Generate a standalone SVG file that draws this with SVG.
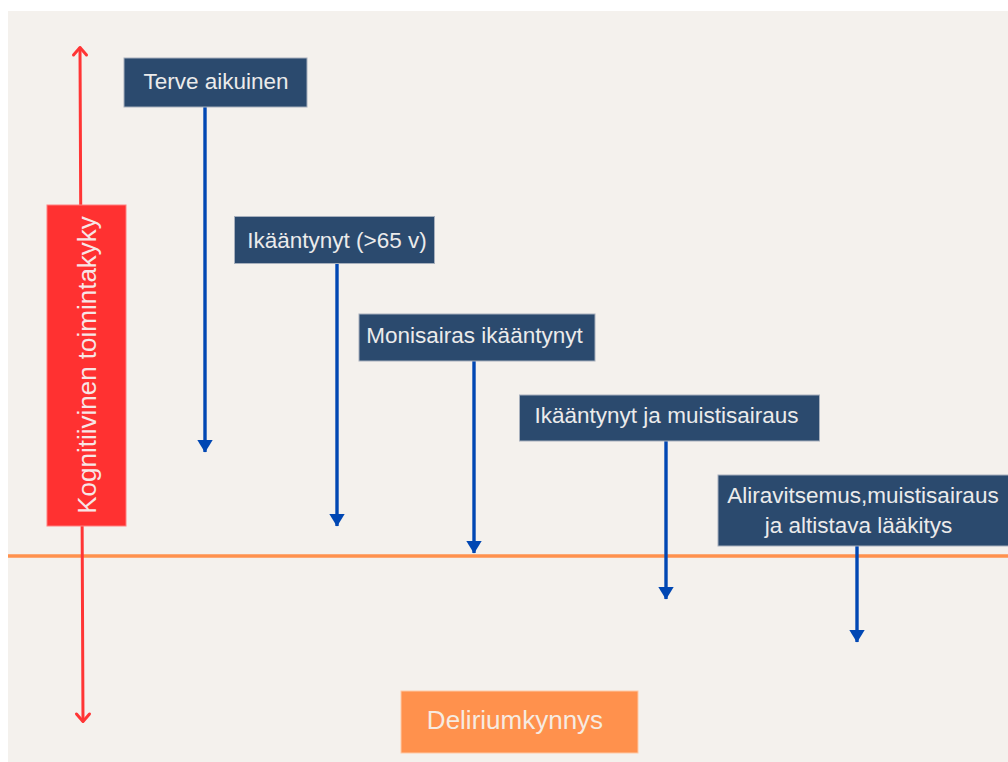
<svg xmlns="http://www.w3.org/2000/svg" width="1008" height="762" viewBox="0 0 1008 762">
<defs>
<style>
.box{fill:#2b4a6e;stroke:#a7b0bd;stroke-width:1}
.lbl{font-family:"Liberation Sans",Arial,sans-serif;font-size:22.5px;fill:#ebebeb;text-anchor:middle}
.blue{stroke:#0047b3;stroke-width:3.4;fill:none}
.red{stroke:#ff3535;stroke-width:3;fill:none;stroke-linecap:round;stroke-linejoin:round}
</style>
<marker id="bh" viewBox="0 0 16 13" refX="8" refY="12.5" markerWidth="16" markerHeight="13" markerUnits="userSpaceOnUse" orient="0">
<path d="M0,0 L16,0 L8,13 Z" fill="#0047b3"/>
</marker>
</defs>
<rect x="0" y="0" width="1008" height="762" fill="#ffffff"/>
<rect x="8" y="11" width="1000" height="751" fill="#f4f1ed"/>

<g id="threshold-line">
<line x1="8" y1="556" x2="1008" y2="556" stroke="#ff914d" stroke-width="3.5"/>
</g>

<g id="axis">
<line class="red" x1="80" y1="48" x2="83" y2="721"/>
<polyline class="red" points="73.5,55 80,47.5 86.5,55"/>
<polyline class="red" points="76.5,714 83,721.5 89.5,714"/>
</g>

<g id="connectors">
<line class="blue" x1="205" y1="107" x2="205" y2="452" marker-end="url(#bh)"/>
<line class="blue" x1="337" y1="263" x2="337" y2="526" marker-end="url(#bh)"/>
<line class="blue" x1="474" y1="361" x2="474" y2="553" marker-end="url(#bh)"/>
<line class="blue" x1="666" y1="433" x2="666" y2="599" marker-end="url(#bh)"/>
<line class="blue" x1="857" y1="546" x2="857" y2="642" marker-end="url(#bh)"/>
</g>

<g id="kognitiivinen">
<rect x="47" y="205" width="79" height="321" fill="#ff3131" stroke="#ff8080" stroke-width="1"/>
<text x="0" y="0" transform="translate(95.5,365) rotate(-90)" font-family="'Liberation Sans',Arial,sans-serif" font-size="26" fill="#f7e6e6" text-anchor="middle">Kognitiivinen toimintakyky</text>
</g>

<g id="terve">
<rect class="box" x="124" y="58" width="183" height="49"/>
<text class="lbl" x="216" y="88.5">Terve aikuinen</text>
</g>

<g id="ikaantyneet">
<rect class="box" x="234.5" y="216.5" width="200" height="47"/>
<text class="lbl" x="337" y="247.5">Ikääntynyt (&gt;65 v)</text>
</g>

<g id="monisairas">
<rect class="box" x="359" y="314" width="236" height="47"/>
<text class="lbl" x="474.5" y="342.5">Monisairas ikääntynyt</text>
</g>

<g id="muistisairaus">
<rect class="box" x="519.5" y="395" width="300" height="46"/>
<text class="lbl" x="666.5" y="422.5">Ikääntynyt ja muistisairaus</text>
</g>

<g id="aliravitsemus">
<rect class="box" x="718" y="475" width="296" height="71"/>
<text class="lbl" x="863" y="502.5">Aliravitsemus,muistisairaus</text>
<text class="lbl" x="858.5" y="532.5">ja altistava lääkitys</text>
</g>

<g id="deliriumkynnys">
<rect x="401" y="691" width="237" height="62" fill="#ff914d" stroke="#ffc9a6" stroke-width="1"/>
<text x="515" y="729" font-family="'Liberation Sans',Arial,sans-serif" font-size="26" fill="#f6ebe1" text-anchor="middle">Deliriumkynnys</text>
</g>
</svg>
